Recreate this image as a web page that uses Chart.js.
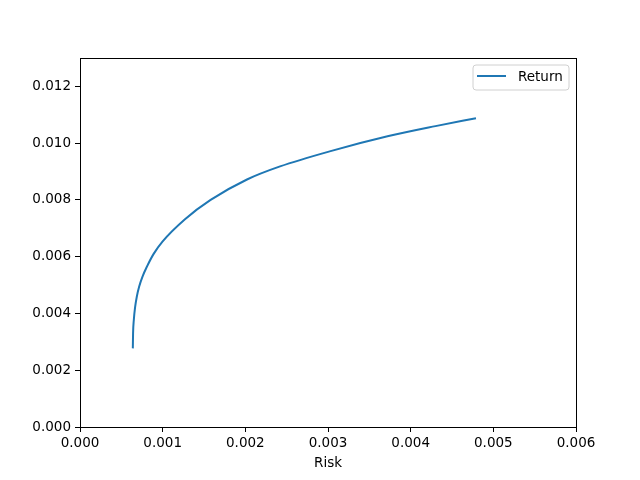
<!DOCTYPE html>
<html>
<head>
<meta charset="utf-8">
<script src="https://cdn.jsdelivr.net/npm/chart.js@4"></script>
<style>
  html, body { margin: 0; padding: 0; background: #fff; }
</style>
</head>
<body>
<canvas id="chart_frontier" width="640" height="480"></canvas>
<script>
const risk = [0.000639, 0.000642, 0.000651, 0.000667, 0.000687, 0.000715, 0.000755, 0.000808, 0.000889, 0.00100,
              0.00127, 0.00158, 0.00202, 0.00242, 0.00302, 0.00372, 0.00430, 0.00479];
const returns = [0.00277, 0.00330, 0.00377, 0.00423, 0.00459, 0.00494, 0.00529, 0.00564, 0.00609, 0.00654,
                 0.00732, 0.00800, 0.00872, 0.00918, 0.00971, 0.01024, 0.01060, 0.01088];
const seriesLabel = 'Return';
const xTitle = 'Risk';

const FONT = 'DejaVu Sans';
const LINE_COLOR = '#1f77b4';

// matplotlib-ish frame + legend inside the axes
const frameAndLegend = {
    id: 'frameAndLegend',
    afterDraw(chart) {
        const { ctx, chartArea: a } = chart;
        ctx.save();
        ctx.strokeStyle = '#000';
        ctx.lineWidth = 1;
        ctx.strokeRect(Math.round(a.left) + 0.5, Math.round(a.top) + 0.5,
                       Math.round(a.right - a.left), Math.round(a.bottom - a.top));

        // legend box
        const x = a.right - 103, y = a.top + 7, w = 96, h = 25, r = 3;
        ctx.beginPath();
        ctx.moveTo(x + r, y);
        ctx.arcTo(x + w, y, x + w, y + h, r);
        ctx.arcTo(x + w, y + h, x, y + h, r);
        ctx.arcTo(x, y + h, x, y, r);
        ctx.arcTo(x, y, x + w, y, r);
        ctx.closePath();
        ctx.fillStyle = 'rgba(255,255,255,0.8)';
        ctx.fill();
        ctx.strokeStyle = '#d0d0d0';
        ctx.stroke();

        ctx.strokeStyle = LINE_COLOR;
        ctx.lineWidth = 2;
        ctx.beginPath();
        ctx.moveTo(x + 4, y + 11);
        ctx.lineTo(x + 33, y + 11);
        ctx.stroke();

        ctx.fillStyle = '#000';
        ctx.font = '13.5px ' + FONT;
        ctx.textBaseline = 'middle';
        ctx.fillText(seriesLabel, x + 45, y + 12);
        ctx.restore();
    }
};

const tickFont = { family: FONT, size: 13.5 };

new Chart(document.getElementById('chart_frontier'), {
    type: 'line',
    data: {
        datasets: [{
            label: seriesLabel,
            data: risk.map((r, i) => ({ x: r, y: returns[i] })),
            borderColor: LINE_COLOR,
            borderWidth: 2,
            pointRadius: 0,
            cubicInterpolationMode: 'monotone',
            fill: false,
        }]
    },
    options: {
        responsive: false,
        animation: false,
        layout: { padding: { top: 58, right: 64, left: 0, bottom: 0 } },
        plugins: {
            legend: { display: false },
            tooltip: { enabled: false },
        },
        scales: {
            x: {
                type: 'linear',
                min: 0,
                max: 0.006,
                grid: { drawOnChartArea: false, tickLength: 5, color: '#000' },
                border: { color: '#000' },
                ticks: {
                    stepSize: 0.001,
                    color: '#000',
                    padding: 3,
                    font: tickFont,
                    maxRotation: 0,
                    callback: v => v.toFixed(3),
                },
                title: { display: true, text: xTitle, color: '#000', font: tickFont, padding: { top: 0, bottom: 8 } },
                afterFit: s => { s.height = 53; },
            },
            y: {
                type: 'linear',
                min: 0,
                max: 0.013,
                grid: { drawOnChartArea: false, tickLength: 5, color: '#000' },
                border: { color: '#000' },
                ticks: {
                    stepSize: 0.002,
                    includeBounds: false,
                    color: '#000',
                    padding: 4,
                    font: tickFont,
                    callback: v => v.toFixed(3),
                },
                afterFit: s => { s.width = 80; },
            }
        }
    },
    plugins: [frameAndLegend]
});
</script>
</body>
</html>
